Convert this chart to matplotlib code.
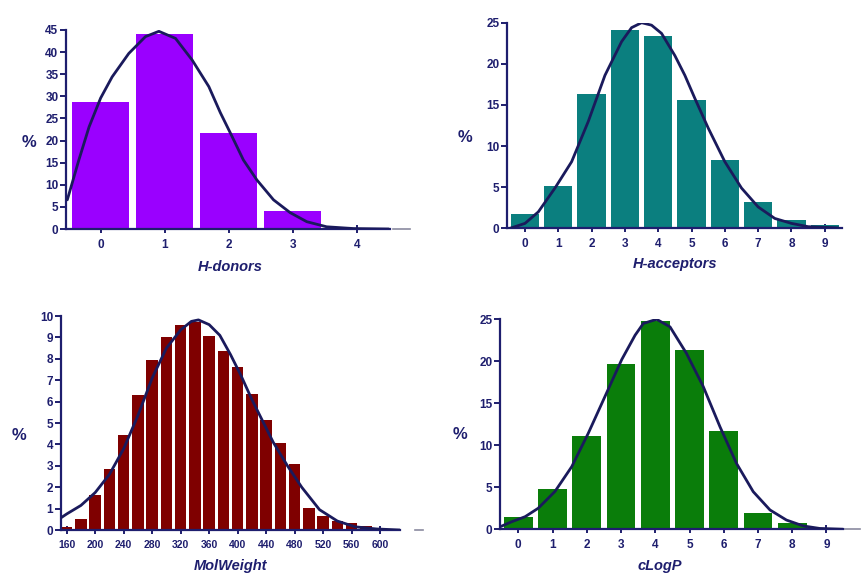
import matplotlib.pyplot as plt

# % of compounds per bin
donors_bins = [0, 1, 2, 3, 4]
donors_pct = [28.8, 44.2, 21.7, 4.0, 0.3]
donors_fit_x = [-0.52, -0.34, -0.18, 0.0, 0.18, 0.44, 0.70, 0.91, 1.17, 1.43, 1.69, 1.87,
                2.03, 2.23, 2.44, 2.70, 2.96, 3.22, 3.53, 3.95, 4.5]
donors_fit_y = [6.6, 15.6, 23.1, 29.6, 34.4, 39.7, 43.5, 44.7, 43.1, 38.2, 32.2, 26.3,
                21.6, 15.6, 11.1, 6.6, 3.7, 1.65, 0.5, 0.1, 0.0]

acc_bins = [0, 1, 2, 3, 4, 5, 6, 7, 8, 9]
acc_pct = [1.7, 5.2, 16.3, 24.1, 23.4, 15.6, 8.3, 3.2, 1.0, 0.45]
acc_fit_x = [-0.45, 0.0, 0.4, 0.9, 1.4, 1.9, 2.4, 2.9, 3.2, 3.5, 3.8, 4.1, 4.5, 4.8,
             5.1, 5.5, 6.0, 6.5, 7.0, 7.5, 8.0, 8.5, 9.4]
acc_fit_y = [0.0, 0.6, 2.0, 4.9, 8.1, 13.0, 18.6, 22.7, 24.4, 25.0, 24.7, 23.7, 21.0, 18.6,
             15.8, 12.2, 8.1, 4.9, 2.6, 1.2, 0.6, 0.2, 0.05]

mw_bins = [160, 180, 200, 220, 240, 260, 280, 300, 320, 340, 360, 380,
           400, 420, 440, 460, 480, 500, 520, 540, 560, 580, 600]
mw_pct = [0.15, 0.5, 1.65, 2.85, 4.45, 6.3, 7.95, 9.0, 9.6, 9.7, 9.05, 8.35,
          7.6, 6.35, 5.15, 4.05, 3.1, 1.05, 0.65, 0.4, 0.35, 0.2, 0.05]
mw_fit_x = [151, 160, 180, 200, 220, 240, 260, 280, 300, 320, 335, 345, 360, 375,
            390, 405, 420, 435, 450, 470, 490, 515, 540, 565, 595, 628]
mw_fit_y = [0.55, 0.75, 1.15, 1.75, 2.6, 3.8, 5.35, 7.1, 8.5, 9.35, 9.75, 9.82, 9.6, 9.1,
            8.2, 7.2, 6.1, 5.1, 4.1, 3.0, 2.0, 0.95, 0.42, 0.15, 0.05, 0.0]

logp_bins = [0, 1, 2, 3, 4, 5, 6, 7, 8]
logp_pct = [1.5, 4.8, 11.1, 19.7, 24.8, 21.3, 11.7, 1.9, 0.7]
logp_fit_x = [-0.53, -0.19, 0.2, 0.58, 1.07, 1.56, 2.04, 2.53, 3.02, 3.41, 3.65, 4.04,
              4.43, 4.91, 5.4, 5.89, 6.37, 6.86, 7.35, 7.83, 8.32, 8.8, 9.49]
logp_fit_y = [0.3, 0.9, 1.5, 2.5, 4.5, 7.45, 11.4, 15.8, 20.2, 23.1, 24.5, 25.0,
              24.1, 20.95, 17.0, 12.2, 7.86, 4.48, 2.3, 1.1, 0.4, 0.1, 0.0]

navy = "#1e1e6e"
curve_col = "#1a1a5c"

plt.rcParams["font.family"] = ["Liberation Sans", "DejaVu Sans"]

fig = plt.figure(figsize=(8.61, 5.78), dpi=100)


def draw_panel(rect, bins, pct, width, color, fit_x, fit_y, xlim, ymax, ystep,
               xticks, xlabel, ylab_pos, xlab_pos, dash=None, xtick_size=8.5):
    ax = fig.add_axes(rect)
    ax.bar(bins, pct, width=width, color=color, zorder=2)
    ax.plot(fit_x, fit_y, color=curve_col, lw=2.0, zorder=3,
            solid_capstyle="round", solid_joinstyle="round")

    ax.set_xlim(*xlim)
    ax.set_ylim(0, ymax)
    ax.set_yticks(list(range(0, ymax + 1, ystep)))
    ax.set_xticks(xticks)

    for s in ["top", "right"]:
        ax.spines[s].set_visible(False)
    for s in ["left", "bottom"]:
        ax.spines[s].set_color(navy)
        ax.spines[s].set_linewidth(1.6)

    ax.tick_params(axis="y", direction="out", length=4, width=1.4, color=navy,
                   labelcolor=navy, labelsize=8.5, pad=1.5)
    ax.tick_params(axis="x", direction="inout", length=6, width=1.4, color=navy,
                   labelcolor=navy, labelsize=xtick_size, pad=4)
    for lab in ax.get_xticklabels() + ax.get_yticklabels():
        lab.set_fontweight("heavy")

    ax.set_ylabel("%", rotation=0, fontsize=12, fontweight="bold", color=navy,
                  ha="center", va="center")
    ax.yaxis.set_label_coords(*ylab_pos)
    ax.set_xlabel(xlabel, fontsize=10.5, fontweight="bold", style="italic", color=navy,
                  va="top")
    ax.xaxis.set_label_coords(*xlab_pos)

    # short grey stub after the end of the x axis
    if dash is not None:
        ax.plot(dash, [0, 0], transform=ax.transAxes, color="#8a8aa0", lw=1.2,
                clip_on=False)
    return ax


draw_panel([0.0767, 0.6038, 0.3763, 0.3443], donors_bins, donors_pct, 0.89, "#9a00ff",
           donors_fit_x, donors_fit_y, (-0.54, 4.52), 45, 5, [0, 1, 2, 3, 4],
           "H-donors", (-0.114, 0.437), (0.506, -0.155), dash=[1.009, 1.062])

draw_panel([0.5889, 0.605, 0.3887, 0.3557], acc_bins, acc_pct, 0.85, "#0b7f7f",
           acc_fit_x, acc_fit_y, (-0.54, 9.51), 25, 5, list(range(10)),
           "H-acceptors", (-0.125, 0.44), (0.502, -0.14))

draw_panel([0.0705, 0.0830, 0.3941, 0.3702], mw_bins, mw_pct, 16, "#7f0000",
           mw_fit_x, mw_fit_y, (151.6, 628), 10, 1, list(range(160, 601, 40)),
           "MolWeight", (-0.123, 0.444), (0.499, -0.135), dash=[1.044, 1.068],
           xtick_size=7.5)

draw_panel([0.5807, 0.0843, 0.3987, 0.3633], logp_bins, logp_pct, 0.84, "#0a7d0a",
           logp_fit_x, logp_fit_y, (-0.535, 9.49), 25, 5, list(range(10)),
           "cLogP", (-0.117, 0.449), (0.466, -0.14), dash=[1.0, 1.049])

fig.savefig("out.png", dpi=100)
